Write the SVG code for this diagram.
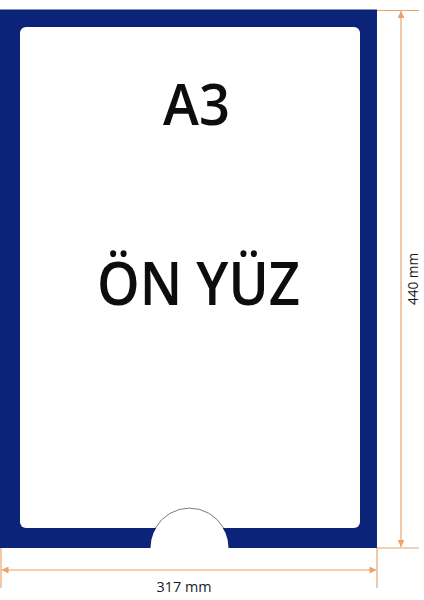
<svg xmlns="http://www.w3.org/2000/svg" width="424" height="600" viewBox="0 0 424 600">
<defs>
<style>
.dim{stroke:#eba36b;stroke-width:1.2;fill:none}
.dimtxt{font-family:"Open Sans","Liberation Sans",sans-serif;font-size:15px;fill:#1a1a1a}
.big{font-family:"Open Sans","Liberation Sans",sans-serif;font-weight:600;fill:#0d0d0d;text-anchor:middle}
</style>
<marker id="ah" viewBox="0 0 10 10" refX="10" refY="5" markerWidth="8" markerHeight="7" orient="auto-start-reverse" markerUnits="userSpaceOnUse">
<path d="M0,0 L10,5 L0,10 z" fill="#eba36b"/>
</marker>
</defs>
<rect width="424" height="600" fill="#ffffff"/>
<g id="frame">
<rect x="0" y="9.5" width="377" height="538.5" fill="#0b2378"/>
<rect x="20" y="27" width="340" height="501" rx="6" ry="6" fill="#ffffff"/>
<path d="M150.5,548 A39,39 0 0 1 228.5,548 Z" fill="#ffffff"/>
<path d="M155.5,528 A39,39 0 0 1 223.5,528" fill="none" stroke="#7a7a7a" stroke-width="1"/>
</g>
<g id="labels">
<text class="big" x="196.5" y="125" font-size="57" textLength="67" lengthAdjust="spacingAndGlyphs">A3</text>
<text class="big" x="198.5" y="305" font-size="60" textLength="203" lengthAdjust="spacingAndGlyphs">ÖN YÜZ</text>
</g>
<g id="connectors">
<line class="dim" x1="377" y1="10.5" x2="419" y2="10.5"/>
<line class="dim" x1="377" y1="548" x2="419" y2="548"/>
<line class="dim" x1="401" y1="11" x2="401" y2="547" marker-start="url(#ah)" marker-end="url(#ah)"/>
<line class="dim" x1="1" y1="548" x2="1" y2="588"/>
<line class="dim" x1="377" y1="548" x2="377" y2="588"/>
<line class="dim" x1="1.5" y1="570" x2="376.5" y2="570" marker-start="url(#ah)" marker-end="url(#ah)"/>
</g>
<g id="dimlabels">
<text class="dimtxt" x="184" y="591.5" text-anchor="middle" textLength="55" lengthAdjust="spacingAndGlyphs">317 mm</text>
<text class="dimtxt" transform="translate(417.5,279) rotate(-90)" x="0" y="0" text-anchor="middle" textLength="52" lengthAdjust="spacingAndGlyphs">440 mm</text>
</g>
</svg>
